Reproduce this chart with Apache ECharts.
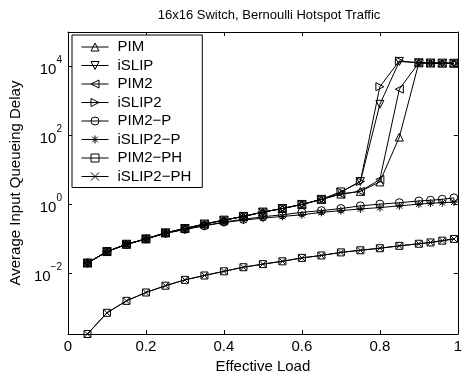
<!DOCTYPE html>
<html><head><meta charset="utf-8">
<script src="https://cdn.jsdelivr.net/npm/echarts@6/dist/echarts.min.js"></script>
<style>html,body{margin:0;padding:0;background:#fff}#c{width:465px;height:379px}</style>
</head><body><div id="c"></div>
<script>
// ---- data ----
const loads = [0.05,0.10,0.15,0.20,0.25,0.30,0.35,0.40,0.45,0.50,0.55,0.60,0.65,0.70,0.75,0.80,0.85,0.90,0.93,0.96,0.99];
const pim      = [0.02,0.043,0.07,0.10,0.15,0.20,0.27,0.35,0.45,0.60,0.76,1.0,1.4,2.0,2.4,4.5,90,12800,12600,12500,12400];
const islip    = [0.02,0.043,0.07,0.10,0.15,0.20,0.27,0.35,0.45,0.60,0.76,1.0,1.4,2.3,4.6,800,14000,12800,12600,12500,12400];
const pim2     = [0.02,0.043,0.07,0.10,0.15,0.20,0.27,0.35,0.45,0.60,0.76,1.0,1.4,2.0,2.4,5.3,2200,12800,12600,12500,12400];
const islip2   = [0.02,0.043,0.07,0.10,0.15,0.20,0.27,0.35,0.45,0.60,0.76,1.0,1.4,2.3,4.6,2600,14500,12800,12600,12500,12400];
const pim2p    = [0.02,0.043,0.069,0.10,0.145,0.19,0.24,0.31,0.37,0.44,0.50,0.59,0.66,0.76,0.91,1.02,1.12,1.26,1.32,1.41,1.55];
const islip2p  = [0.02,0.043,0.069,0.10,0.145,0.19,0.24,0.30,0.35,0.40,0.45,0.50,0.59,0.66,0.74,0.81,0.91,1.02,1.09,1.12,1.17];
const pim2ph   = [1.75e-4,7.2e-4,1.6e-3,2.8e-3,4.4e-3,6.5e-3,8.7e-3,0.0115,0.0151,0.0186,0.0224,0.0282,0.0331,0.0407,0.0468,0.0537,0.063,0.0724,0.079,0.089,0.10];
const islip2ph = [1.75e-4,7.2e-4,1.6e-3,2.8e-3,4.4e-3,6.5e-3,8.7e-3,0.0115,0.0151,0.0186,0.0224,0.0282,0.0331,0.0407,0.0468,0.0537,0.063,0.0724,0.079,0.089,0.10];
const seriesNames = ['PIM','iSLIP','PIM2','iSLIP2','PIM2\u2212P','iSLIP2\u2212P','PIM2\u2212PH','iSLIP2\u2212PH'];
const xTicks = [0,0.2,0.4,0.6,0.8,1];
const yTickExps = [-2,0,2,4];
const yMinExp = -3.76, yMaxExp = 5;

// ---- chart ----
const FONT = '"Liberation Sans", Arial, Helvetica, sans-serif';
const sets = [pim, islip, pim2, islip2, pim2p, islip2p, pim2ph, islip2ph];
const star = 'path://M5,0L5,10M0,5L10,5M1.5,1.5L8.5,8.5M1.5,8.5L8.5,1.5';
const cross = 'path://M0,0L10,10M0,10L10,0';
const marks = [
  {symbol:'triangle', rot:0, size:8},
  {symbol:'triangle', rot:180, size:8},
  {symbol:'triangle', rot:90, size:8},
  {symbol:'triangle', rot:-90, size:8},
  {symbol:'circle', rot:0, size:8},
  {symbol:star, rot:0, size:8},
  {symbol:'rect', rot:0, size:7},
  {symbol:cross, rot:0, size:6}
];
const clear = 'rgba(255,255,255,0)';
const series = sets.map((vals, i) => ({
  name: seriesNames[i],
  type: 'line',
  data: loads.map((x, j) => [x, Math.log10(vals[j])]),
  symbol: marks[i].symbol,
  symbolRotate: marks[i].rot,
  symbolSize: marks[i].size,
  showAllSymbol: true,
  clip: false,
  lineStyle: {color:'#000', width:1},
  itemStyle: {color: clear, borderColor:'#000', borderWidth:1},
  emphasis: {disabled:true},
  animation: false
}));
const supFmt = v => {
  const e = Math.round(v);
  return '{b|10}{s|' + (e < 0 ? '\u2212' + (-e) : e) + '}';
};
const axisLine = {show:true, onZero:false, lineStyle:{color:'#000', width:1}};
const chart = echarts.init(document.getElementById('c'), null, {renderer:'canvas'});
chart.setOption({
  animation: false,
  backgroundColor: '#fff',
  textStyle: {fontFamily: FONT},
  title: {
    text: '16x16 Switch, Bernoulli Hotspot Traffic',
    left: 264, top: 4, textAlign: 'center',
    textStyle: {fontFamily: FONT, fontSize: 13, fontWeight: 'normal', color:'#000'}
  },
  grid: {left: 68, right: 5, top: 32, bottom: 38},
  legend: {
    orient: 'vertical', left: 72, top: 35,
    data: seriesNames,
    itemWidth: 27, itemHeight: 10, itemGap: 2.5,
    padding: [4, 11, 3, 9],
    borderColor: '#000', borderWidth: 1, backgroundColor: '#fff',
    itemStyle: {color: clear, borderColor:'#000', borderWidth:1},
    lineStyle: {color:'#000', width:1},
    textStyle: {fontFamily: FONT, fontSize: 15, color:'#000', padding:[0,0,0,4], lineHeight: 16},
    selectedMode: false
  },
  xAxis: [{
    type: 'value', min: 0, max: 1, interval: 0.2,
    position: 'bottom',
    name: 'Effective Load', nameLocation: 'middle', nameGap: 19,
    nameTextStyle: {fontFamily: FONT, fontSize: 15, color:'#000'},
    axisLine: axisLine,
    axisTick: {show:true, inside:true, length:4, lineStyle:{color:'#000'}},
    axisLabel: {fontFamily: FONT, fontSize: 15, color:'#000', margin: 5,
      customValues: xTicks, formatter: v => String(+v.toFixed(1))},
    splitLine: {show:false}
  }, {
    type: 'value', min: 0, max: 1, interval: 0.2,
    position: 'top',
    axisLine: axisLine,
    axisTick: {show:true, inside:true, length:4, lineStyle:{color:'#000'}},
    axisLabel: {show:false},
    splitLine: {show:false}
  }],
  yAxis: [{
    type: 'value', min: yMinExp, max: yMaxExp,
    position: 'left',
    name: 'Average Input Queueing Delay', nameLocation: 'middle', nameGap: 44,
    nameTextStyle: {fontFamily: FONT, fontSize: 15, color:'#000'},
    axisLine: axisLine,
    axisTick: {show:true, inside:true, length:4, lineStyle:{color:'#000'}, customValues: yTickExps},
    axisLabel: {margin: 6, customValues: yTickExps, formatter: supFmt,
      rich: {
        b: {fontFamily: FONT, fontSize: 15, color:'#000', lineHeight: 22, verticalAlign:'bottom'},
        s: {fontFamily: FONT, fontSize: 10, color:'#000', lineHeight: 22, verticalAlign:'top'}
      }},
    splitLine: {show:false}
  }, {
    type: 'value', min: yMinExp, max: yMaxExp,
    position: 'right',
    axisLine: axisLine,
    axisTick: {show:true, inside:true, length:4, lineStyle:{color:'#000'}, customValues: yTickExps},
    axisLabel: {show:false},
    splitLine: {show:false}
  }],
  series: series
});
</script>
</body></html>
